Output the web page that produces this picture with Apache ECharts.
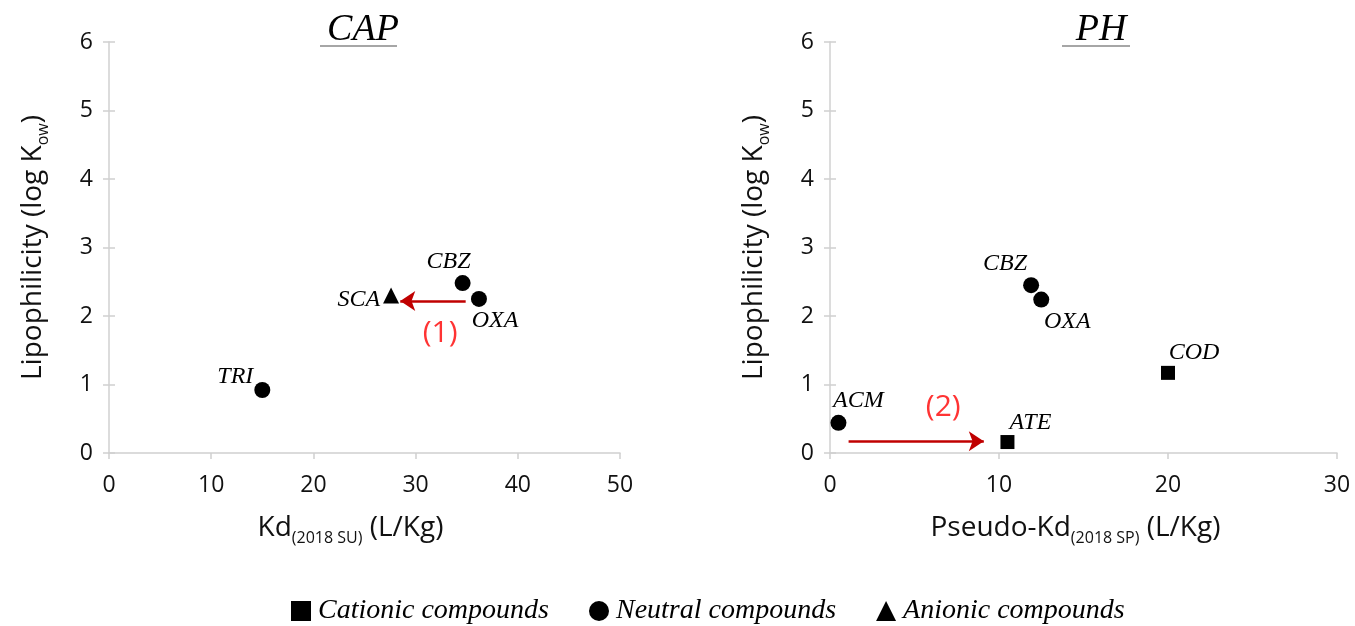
<!DOCTYPE html>
<html><head><meta charset="utf-8">
<script src="https://cdn.jsdelivr.net/npm/echarts@6/dist/echarts.min.js"></script>
<style>html,body{margin:0;padding:0;background:#fff}#c{width:1355px;height:626px}</style>
</head><body><div id="c"></div>
<script>
// ---- data ----
const capNames = ['TRI', 'CBZ', 'OXA', 'SCA'];
const capKd = [15.0, 34.6, 36.2, 27.6];
const capLogKow = [0.92, 2.48, 2.25, 2.30];
const capType = ['Neutral', 'Neutral', 'Neutral', 'Anionic'];

const phNames = ['CBZ', 'OXA', 'ACM', 'ATE', 'COD'];
const phKd = [11.9, 12.5, 0.5, 10.5, 20.0];
const phLogKow = [2.45, 2.24, 0.44, 0.16, 1.17];
const phType = ['Neutral', 'Neutral', 'Neutral', 'Cationic', 'Cationic'];

const capTicksX = [0, 10, 20, 30, 40, 50];
const phTicksX = [0, 10, 20, 30];
const ticksY = [0, 1, 2, 3, 4, 5, 6];

// arrows [x1, y1, x2, y2]
const capArrow = [34.9, 2.22, 28.5, 2.22];
const phArrow = [1.1, 0.17, 9.1, 0.17];
const capNote = {text: '(1)', x: 32.4, y: 1.74};
const phNote = {text: '(2)', x: 6.7, y: 0.67};

const typeNames = {Cationic: 'Cationic compounds', Neutral: 'Neutral compounds', Anionic: 'Anionic compounds'};
const typeOrder = ['Cationic', 'Neutral', 'Anionic'];

// ---- styles ----
const symbols = {Cationic: 'rect', Neutral: 'circle', Anionic: 'triangle'};
const sizes = {Cationic: 14, Neutral: 16, Anionic: 16};
const capLabelStyle = {
  TRI: {position: 'left', offset: [3, -13]},
  CBZ: {position: 'top', offset: [-14, 3]},
  OXA: {position: 'bottom', offset: [16, -2]},
  SCA: {position: 'left', offset: [1, 4]}
};
const phLabelStyle = {
  CBZ: {position: 'top', offset: [-26, 3]},
  OXA: {position: 'bottom', offset: [26, -2]},
  ACM: {position: 'top', offset: [20, 2]},
  ATE: {position: 'top', offset: [23, 4]},
  COD: {position: 'top', offset: [26, 3]}
};
const serif = '"Liberation Serif", "DejaVu Serif", serif';
const sans = '"Open Sans", "Noto Sans", sans-serif';
const axisGray = '#d0d0d0';

function mkSeries(names, xs, ys, types, labelStyle, axisIdxX, axisIdxY) {
  const out = [];
  typeOrder.forEach(t => {
    const data = [];
    names.forEach((n, i) => {
      if (types[i] !== t) return;
      const ls = labelStyle[n];
      data.push({
        value: [xs[i], ys[i]], name: n,
        label: {show: true, formatter: n, position: ls.position, offset: ls.offset}
      });
    });
    if (!data.length) return;
    out.push({
      type: 'scatter', name: typeNames[t], xAxisIndex: axisIdxX, yAxisIndex: axisIdxY,
      symbol: symbols[t], symbolSize: sizes[t],
      itemStyle: {color: '#000', opacity: 1},
      label: {color: '#000', fontFamily: serif, fontStyle: 'italic', fontSize: 24, distance: 4},
      emphasis: {disabled: true},
      data: data, z: 5
    });
  });
  return out;
}

function annot(arrow, note, ax, ay) {
  return {
    type: 'scatter', name: 'annot' + ax, xAxisIndex: ax, yAxisIndex: ay,
    symbolSize: 0, silent: true,
    data: [{value: [note.x, note.y]}],
    label: {show: true, position: 'inside', formatter: note.text, color: '#ff0000', fontFamily: sans, fontSize: 30},
    markLine: {
      silent: true, symbol: ['none', 'arrow'], symbolSize: 15,
      lineStyle: {color: '#c00000', width: 2.5, type: 'solid'},
      itemStyle: {color: '#c00000'},
      label: {show: false},
      emphasis: {disabled: true},
      data: [[{coord: [arrow[0], arrow[1]]}, {coord: [arrow[2], arrow[3]]}]]
    }
  };
}

const nameRich = {
  a: {fontFamily: sans, fontSize: 28, color: '#111'},
  s: {fontFamily: sans, fontSize: 16, color: '#111', padding: [19, 0, 0, 0]}
};

function xAx(grid, max, name, shift) {
  return [{
    gridIndex: grid, type: 'value', min: 0, max: max, interval: 10,
    axisLine: {show: true, lineStyle: {color: axisGray, width: 1.5}},
    axisTick: {show: true, length: 6, lineStyle: {color: axisGray, width: 1.5}},
    axisLabel: {color: '#111', fontFamily: sans, fontSize: 23, margin: 21},
    splitLine: {show: false},
    name: name, nameLocation: 'middle', nameGap: 58,
    nameTextStyle: {color: '#111', fontFamily: sans, fontSize: 28, rich: nameRich, padding: [0, shift, 0, 0]}
  }, {
    gridIndex: grid, type: 'value', min: 0, max: max, interval: 10,
    axisLine: {show: false}, axisTick: {show: true, inside: true, length: 6, lineStyle: {color: axisGray, width: 1.5}},
    axisLabel: {show: false}, splitLine: {show: false}
  }];
}
function yAx(grid) {
  return [{
    gridIndex: grid, type: 'value', min: 0, max: 6, interval: 1,
    axisLine: {show: true, lineStyle: {color: axisGray, width: 1.5}},
    axisTick: {show: true, length: 6, lineStyle: {color: axisGray, width: 1.5}},
    axisLabel: {color: '#111', fontFamily: sans, fontSize: 23, margin: 16},
    splitLine: {show: false},
    name: '{a|Lipophilicity (log K}{s|ow}{a|)}', nameLocation: 'middle', nameGap: 58, nameRotate: 90,
    nameTextStyle: {color: '#111', fontFamily: sans, fontSize: 28, rich: nameRich}
  }, {
    gridIndex: grid, type: 'value', min: 0, max: 6, interval: 1, position: 'left',
    axisLine: {show: false}, axisTick: {show: true, inside: true, length: 6, lineStyle: {color: axisGray, width: 1.5}},
    axisLabel: {show: false}, splitLine: {show: false}
  }];
}

const chart = echarts.init(document.getElementById('c'));
const series = []
  .concat(mkSeries(capNames, capKd, capLogKow, capType, capLabelStyle, 0, 0))
  .concat(mkSeries(phNames, phKd, phLogKow, phType, phLabelStyle, 2, 2))
  .concat([annot(capArrow, capNote, 0, 0), annot(phArrow, phNote, 2, 2)]);

chart.setOption({
  animation: false,
  grid: [
    {left: 109, top: 42, width: 511, height: 411},
    {left: 830, top: 42, width: 507, height: 411}
  ],
  xAxis: [].concat(xAx(0, 50, '{a|Kd}{s|(2018 SU)}{a| (L/Kg)}', 28), xAx(1, 30, '{a|Pseudo-Kd}{s|(2018 SP)}{a| (L/Kg)}', 16)),
  yAxis: [].concat(yAx(0), yAx(1)),
  title: [
    {text: 'CAP', left: 358, top: 6, textAlign: 'center',
     textStyle: {fontFamily: serif, fontStyle: 'italic', fontWeight: 'normal', fontSize: 38, color: '#000'}},
    {text: 'PH', left: 1096, top: 6, textAlign: 'center',
     textStyle: {fontFamily: serif, fontStyle: 'italic', fontWeight: 'normal', fontSize: 38, color: '#000'}}
  ],
  graphic: [
    {type: 'line', shape: {x1: 320, y1: 46, x2: 397, y2: 46}, style: {stroke: '#888', lineWidth: 1.5}},
    {type: 'line', shape: {x1: 1062, y1: 46, x2: 1130, y2: 46}, style: {stroke: '#888', lineWidth: 1.5}}
  ],
  legend: {
    data: typeOrder.map(t => ({name: typeNames[t], icon: symbols[t]})),
    left: 286, top: 592, itemWidth: 20, itemHeight: 20, itemGap: 40,
    selectedMode: false,
    textStyle: {fontFamily: serif, fontStyle: 'italic', fontSize: 28, color: '#000', padding: [0, 0, 0, 2]}
  },
  series: series
});
</script></body></html>
